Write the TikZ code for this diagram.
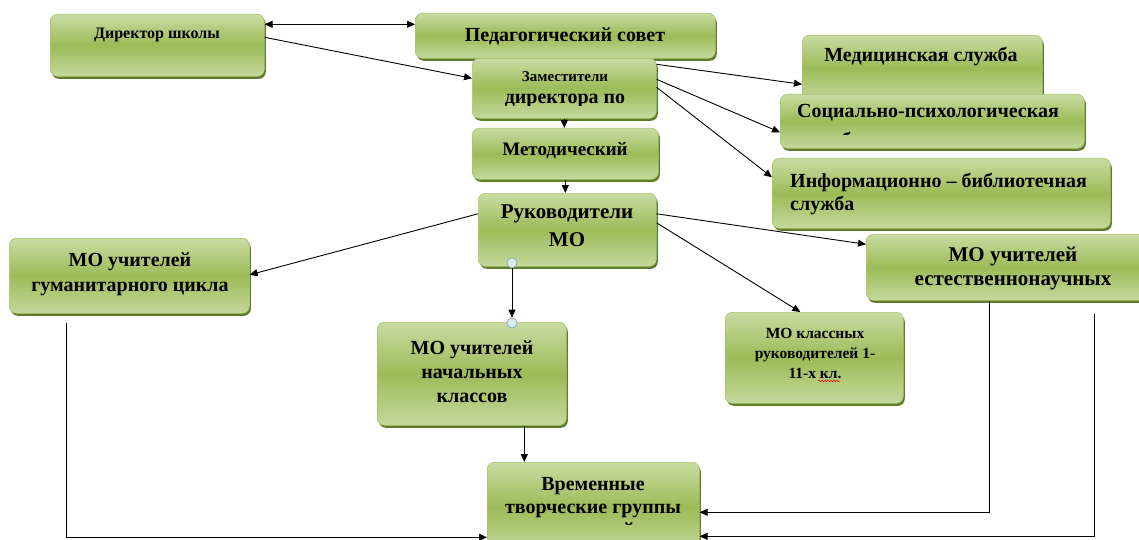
\documentclass[tikz,border=0pt]{standalone}
\usepackage{fontspec}
\setmainfont{Liberation Serif}[BoldFont={Liberation Serif Bold}]
\newfontfamily\tnr{Liberation Serif}[BoldFont={Liberation Serif Bold}]
\usetikzlibrary{shadows,arrows.meta,calc,decorations.pathmorphing}
\definecolor{gtop}{HTML}{C8DCA2}
\definecolor{gmid}{HTML}{9CBB58}
\definecolor{gbot}{HTML}{C4D99D}
\definecolor{gedge}{HTML}{A8C46C}
\definecolor{gshadow}{HTML}{5F7C2A}
\definecolor{hfill}{HTML}{D9ECF3}
\definecolor{hdraw}{HTML}{7F9FAF}
\newcommand\fz[2]{\tnr\fontsize{#1}{#2}\selectfont\bfseries}
\begin{document}
\begin{tikzpicture}[x=1pt,y=-1pt,
  >={Triangle[length=8pt,width=7pt]},
  gbox/.style={rectangle, rounded corners=7pt, draw=gedge, line width=0.6pt,
    top color=gtop, bottom color=gbot, middle color=gmid,
    drop shadow={shadow xshift=1.5pt, shadow yshift=-2.5pt, fill=gshadow, opacity=1},
    inner sep=0pt, anchor=north west},
  txt/.style={inner sep=0pt, text=black},
  arr/.style={line width=0.9pt, ->},
  arrb/.style={line width=0.9pt, <->},
  handle/.style={circle, draw=hdraw, fill=hfill, line width=0.6pt, inner sep=0pt, minimum size=10pt}]
\useasboundingbox (0,0) rectangle (1139,540);

% boxes
\node[gbox, minimum width=214pt, minimum height=62pt] (dir) at (50,14) {};
\node[gbox, minimum width=300pt, minimum height=45pt] (ped) at (415,13) {};
\node[gbox, minimum width=184pt, minimum height=60pt] (zam) at (472,58) {};
\node[gbox, minimum width=186pt, minimum height=51pt] (met) at (472,128) {};
\node[gbox, minimum width=178pt, minimum height=73pt] (ruk) at (478,193) {};
\node[gbox, minimum width=240pt, minimum height=66pt] (med) at (802,35) {};
\node[gbox, minimum width=304pt, minimum height=54pt] (soc) at (780,94) {};
\node[gbox, minimum width=338pt, minimum height=70pt] (inf) at (772,158) {};
\node[gbox, minimum width=285pt, minimum height=66pt] (est) at (866,234) {};
\node[gbox, minimum width=240pt, minimum height=75pt] (gum) at (9,238) {};
\node[gbox, minimum width=189pt, minimum height=103pt] (nach) at (377,322) {};
\node[gbox, minimum width=178pt, minimum height=91pt] (kl) at (725,312) {};
\node[gbox, minimum width=212pt, minimum height=90pt] (vr) at (487,462) {};

% texts
\node[txt, font=\fz{16}{19}] (dirt) at (157,35) {Директор школы};
\node[txt, font=\fz{20}{23}] (pedt) at (565,36) {Педагогический совет};
\begin{scope}
  \clip (zam.north west) rectangle ([yshift=13pt]zam.south east);
  \node[txt, font=\fz{15}{18}] (zamt1) at (565,77) {Заместители};
  \node[txt, font=\fz{20}{23}, anchor=base] (zamt2) at (565,104) {директора по};
\end{scope}
\node[txt, font=\fz{19}{23}] (mett) at (565,151) {Методический};
\node[txt, font=\fz{21}{28}, align=center] (rukt) at (567,226) {Руководители\\МО};
\node[txt, font=\fz{20}{23}] (medt) at (921,57) {Медицинская служба};
\node[txt, font=\fz{20}{23}, anchor=west] (soct) at (797,113) {Социально-психологическая};
\begin{scope}
  \clip (soc.north west) rectangle ([yshift=14pt]soc.south east);
  \node[txt, font=\fz{20}{23}, anchor=base west] (soct2) at (797,147) {служба};
\end{scope}
\node[txt, font=\fz{20}{23}, align=left, anchor=west] (inft) at (790,194) {Информационно – библиотечная\\служба};
\node[txt, font=\fz{21}{24}, align=center] (estt) at (1013,269) {МО учителей\\естественнонаучных};
\node[txt, font=\fz{20}{25}, align=center] (gumt) at (130,274) {МО учителей\\гуманитарного цикла};
\node[txt, font=\fz{20}{24}, align=center] (nacht) at (472,372) {МО учителей\\начальных\\классов};
\node[txt, font=\fz{15.5}{20}, align=center] (klt) at (815,353) {МО классных\\руководителей 1-\\11-х кл.};
\node[txt, font=\fz{20}{23}, align=center] (vrt) at (593,498) {Временные\\творческие группы};
\begin{scope}
  \clip (vr.north west) rectangle ([yshift=27pt]vr.south east);
  \node[txt, font=\fz{20}{23}, anchor=base] (vrt2) at (593,536.5) {учителей};
\end{scope}
\draw[red, line width=0.5pt, decorate, decoration={snake, amplitude=0.8pt, segment length=3pt}] (818,381) -- (840,381);

% handles
\node[handle] (h1) at (512,263) {};
\node[handle] (h2) at (512,323) {};

% connectors
\draw[arrb] ([yshift=21pt]dir.east) -- ([yshift=11.5pt]ped.west);
\draw[arr] ([yshift=8pt]dir.east) -- ([yshift=10pt]zam.west);
\draw[arr] (zam.south) -- (zam.south |- met.north);
\draw[arr] (met.south) -- (met.south |- ruk.north);
\draw[arr] ([yshift=24pt]zam.east) -- ([yshift=-16pt]med.west);
\draw[arr] ([yshift=9pt]zam.east) -- ([yshift=-11pt]soc.west);
\draw[arr] ([yshift=1pt]zam.east) -- ([yshift=16pt]inf.west);
\draw[arr] ([yshift=16pt]ruk.west) -- ([yshift=1pt]gum.east);
\draw[arr] ([yshift=16pt]ruk.east) -- ([yshift=23pt]est.west);
\draw[arr] ([yshift=7pt]ruk.east) -- ([xshift=-14pt]kl.north);
\draw[arr] (h1.south) -- (h2.north);
\coordinate (vrin) at ([xshift=-69pt]vr.north);
\draw[arr] (nach.south -| vrin) -- (vrin);
\coordinate (gs) at ($(gum.south west)+(57,9)$);
\draw[arr] (gs) |- ([yshift=-30pt]vr.west);
\coordinate (es1) at ($(est.south west)+(123,0)$);
\draw[arr] (es1) |- ([yshift=-5pt]vr.east);
\coordinate (es2) at ($(est.south west)+(228,13)$);
\draw[arr] (es2) |- ([yshift=-29pt]vr.east);
\end{tikzpicture}
\end{document}
